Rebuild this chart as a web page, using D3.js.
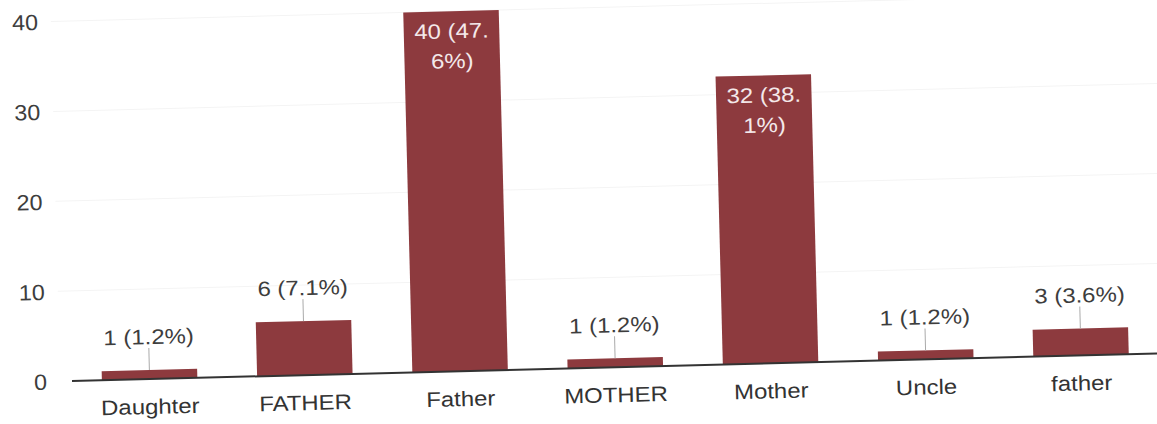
<!DOCTYPE html>
<html>
<head>
<meta charset="utf-8">
<script src="https://cdn.jsdelivr.net/npm/d3@7"></script>
<style>
  html, body { margin: 0; padding: 0; background: #ffffff; }
  svg { display: block; }
  text { font-family: "Liberation Sans", Arial, sans-serif; }
</style>
</head>
<body>
<svg id="chart" width="1157" height="424"></svg>
<script>
const categories = ["Daughter", "FATHER", "Father", "MOTHER", "Mother", "Uncle", "father"];
const counts = [1, 6, 40, 1, 32, 1, 3];
const percents = ["1.2%", "7.1%", "47.6%", "1.2%", "38.1%", "1.2%", "3.6%"];
const yTicks = [0, 10, 20, 30, 40];
// labels that wrap inside tall bars
const insideLines = { "Father": ["40 (47.", "6%)"], "Mother": ["32 (38.", "1%)"] };

const svg = d3.select("#chart");
const W = 1087, H = 360;
const SX = 1.14;   // horizontal stretch of the reference picture text
const SXT = 1.06;  // stretch for tick labels

const g = svg.append("g").attr("transform", "translate(72,381) rotate(-1.45)");

const x = d3.scaleBand().domain(categories).range([0, W]).paddingInner(0.385).paddingOuter(0.1925);
const y = d3.scaleLinear().domain([0, 40]).range([0, -H]);

// faint gridlines
g.selectAll("line.grid").data(yTicks.filter(d => d > 0)).enter().append("line")
  .attr("class", "grid")
  .attr("x1", -12).attr("x2", W + 20)
  .attr("y1", d => y(d)).attr("y2", d => y(d))
  .attr("stroke", "#f4f4f4").attr("stroke-width", 1);

// y tick labels
g.selectAll("text.ytick").data(yTicks).enter().append("text")
  .attr("class", "ytick")
  .attr("transform", d => `translate(-25,${y(d)}) scale(${SXT},1)`)
  .attr("dy", "0.37em")
  .attr("text-anchor", "end")
  .attr("font-size", 22)
  .attr("fill", "#3d3d3d")
  .text(d => d);

const data = categories.map((c, i) => ({ cat: c, v: counts[i], p: percents[i] }));

// bars
g.selectAll("rect.bar").data(data).enter().append("rect")
  .attr("class", "bar")
  .attr("x", d => x(d.cat))
  .attr("width", x.bandwidth())
  .attr("y", d => y(d.v))
  .attr("height", d => -y(d.v))
  .attr("fill", "#8d3a3e");

// baseline
g.append("line")
  .attr("x1", 0).attr("x2", W + 30)
  .attr("y1", 0).attr("y2", 0)
  .attr("stroke", "#333").attr("stroke-width", 2);

// outside labels with stems
const outside = data.filter(d => !insideLines[d.cat]);
g.selectAll("line.stem").data(outside).enter().append("line")
  .attr("class", "stem")
  .attr("x1", d => x(d.cat) + x.bandwidth() / 2)
  .attr("x2", d => x(d.cat) + x.bandwidth() / 2)
  .attr("y1", d => y(d.v))
  .attr("y2", d => y(d.v) - 22)
  .attr("stroke", "#aaa").attr("stroke-width", 1);

g.selectAll("text.val").data(outside).enter().append("text")
  .attr("class", "val")
  .attr("transform", d => `translate(${x(d.cat) + x.bandwidth() / 2},${y(d.v) - 26}) scale(${SX},1)`)
  .attr("text-anchor", "middle")
  .attr("font-size", 21)
  .attr("fill", "#3d3d3d")
  .text(d => `${d.v} (${d.p})`);

// inside labels
const inside = data.filter(d => insideLines[d.cat]);
inside.forEach(d => {
  insideLines[d.cat].forEach((line, k) => {
    g.append("text")
      .attr("transform", `translate(${x(d.cat) + x.bandwidth() / 2},${y(d.v) + 27 + k * 30}) scale(${SX},1)`)
      .attr("text-anchor", "middle")
      .attr("font-size", 21)
      .attr("fill", "#f4e9ea")
      .text(line);
  });
});

// x labels
g.selectAll("text.xlab").data(categories).enter().append("text")
  .attr("class", "xlab")
  .attr("transform", d => `translate(${x(d) + x.bandwidth() / 2},35) scale(${SX},1)`)
  .attr("text-anchor", "middle")
  .attr("font-size", 21)
  .attr("fill", "#333")
  .text(d => d);
</script>
</body>
</html>
